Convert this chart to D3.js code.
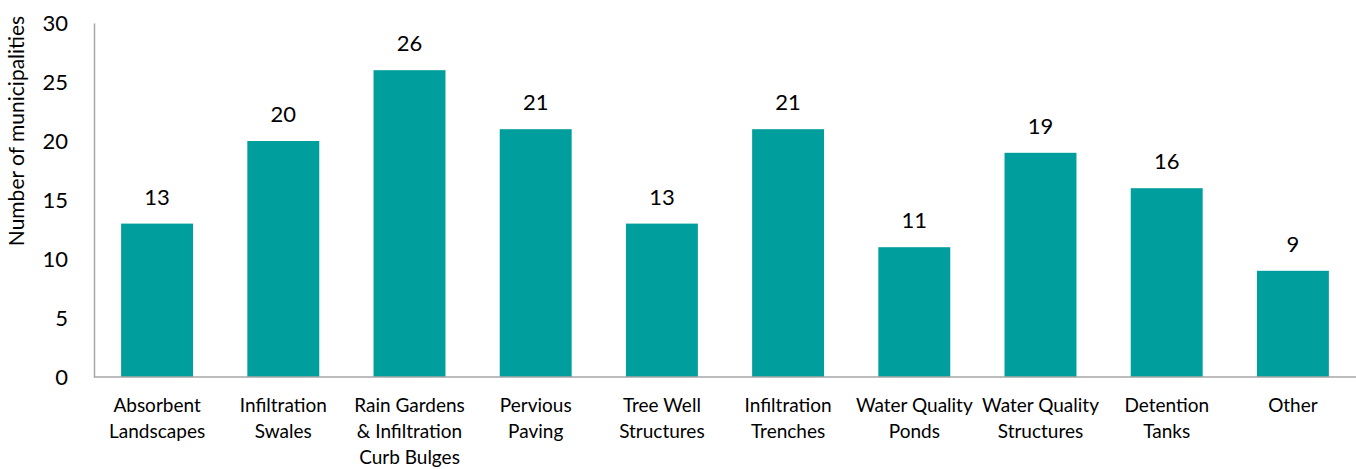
<!DOCTYPE html>
<html><head><meta charset="utf-8">
<script src="https://cdn.jsdelivr.net/npm/d3@7"></script>
<style>body{margin:0;background:#fff}svg{display:block}text{font-family:Lato,"Open Sans",sans-serif}</style>
</head><body><svg id="c" width="1356" height="469"></svg>
<script>
const categories = [["Absorbent","Landscapes"],["Infiltration","Swales"],["Rain Gardens","& Infiltration","Curb Bulges"],["Pervious","Paving"],["Tree Well","Structures"],["Infiltration","Trenches"],["Water Quality","Ponds"],["Water Quality","Structures"],["Detention","Tanks"],["Other"]];
const values = [13,20,26,21,13,21,11,19,16,9];
const yTicks = [0,5,10,15,20,25,30];

const svg = d3.select("#c");
const mLeft = 94, mRight = 1356, mTop = 23, mBottom = 377;
const x = d3.scaleBand().domain(d3.range(categories.length)).range([mLeft,mRight]).paddingInner(0.43).paddingOuter(0.215);
const y = d3.scaleLinear().domain([0,30]).range([mBottom,mTop]);

svg.append("g").selectAll("rect").data(values).join("rect")
  .attr("x",(d,i)=>x(i)).attr("width",x.bandwidth())
  .attr("y",d=>y(d)).attr("height",d=>y(0)-y(d)).attr("fill","#009e9c");

svg.append("g").selectAll("text").data(values).join("text")
  .attr("x",(d,i)=>x(i)+x.bandwidth()/2).attr("y",d=>y(d)-19)
  .attr("text-anchor","middle").attr("font-size",22).attr("fill","#000").text(d=>d);

const yAxis = svg.append("g").attr("transform",`translate(${mLeft},0)`)
  .call(d3.axisLeft(y).tickValues(yTicks).tickSize(0).tickPadding(26));
yAxis.select(".domain").attr("stroke","#a6a6a6").attr("stroke-width",1.5);
yAxis.selectAll("text").attr("font-size",22).attr("fill","#000").attr("font-family","Lato, 'Open Sans', sans-serif");

svg.append("line").attr("x1",mLeft).attr("x2",mRight).attr("y1",y(0)).attr("y2",y(0)).attr("stroke","#a6a6a6").attr("stroke-width",1.5);

const lab = svg.append("g").selectAll("text").data(categories).join("text")
  .attr("text-anchor","middle").attr("font-size",19).attr("fill","#000")
  .attr("transform",(d,i)=>`translate(${x(i)+x.bandwidth()/2},412)`);
lab.selectAll("tspan").data(d=>d).join("tspan").attr("x",0).attr("dy",(d,j)=>j?26:0).text(d=>d);

svg.append("text").attr("transform","translate(24,131) rotate(-90)").attr("text-anchor","middle")
  .attr("font-size",21).attr("fill","#000").text("Number of municipalities");
</script></body></html>
